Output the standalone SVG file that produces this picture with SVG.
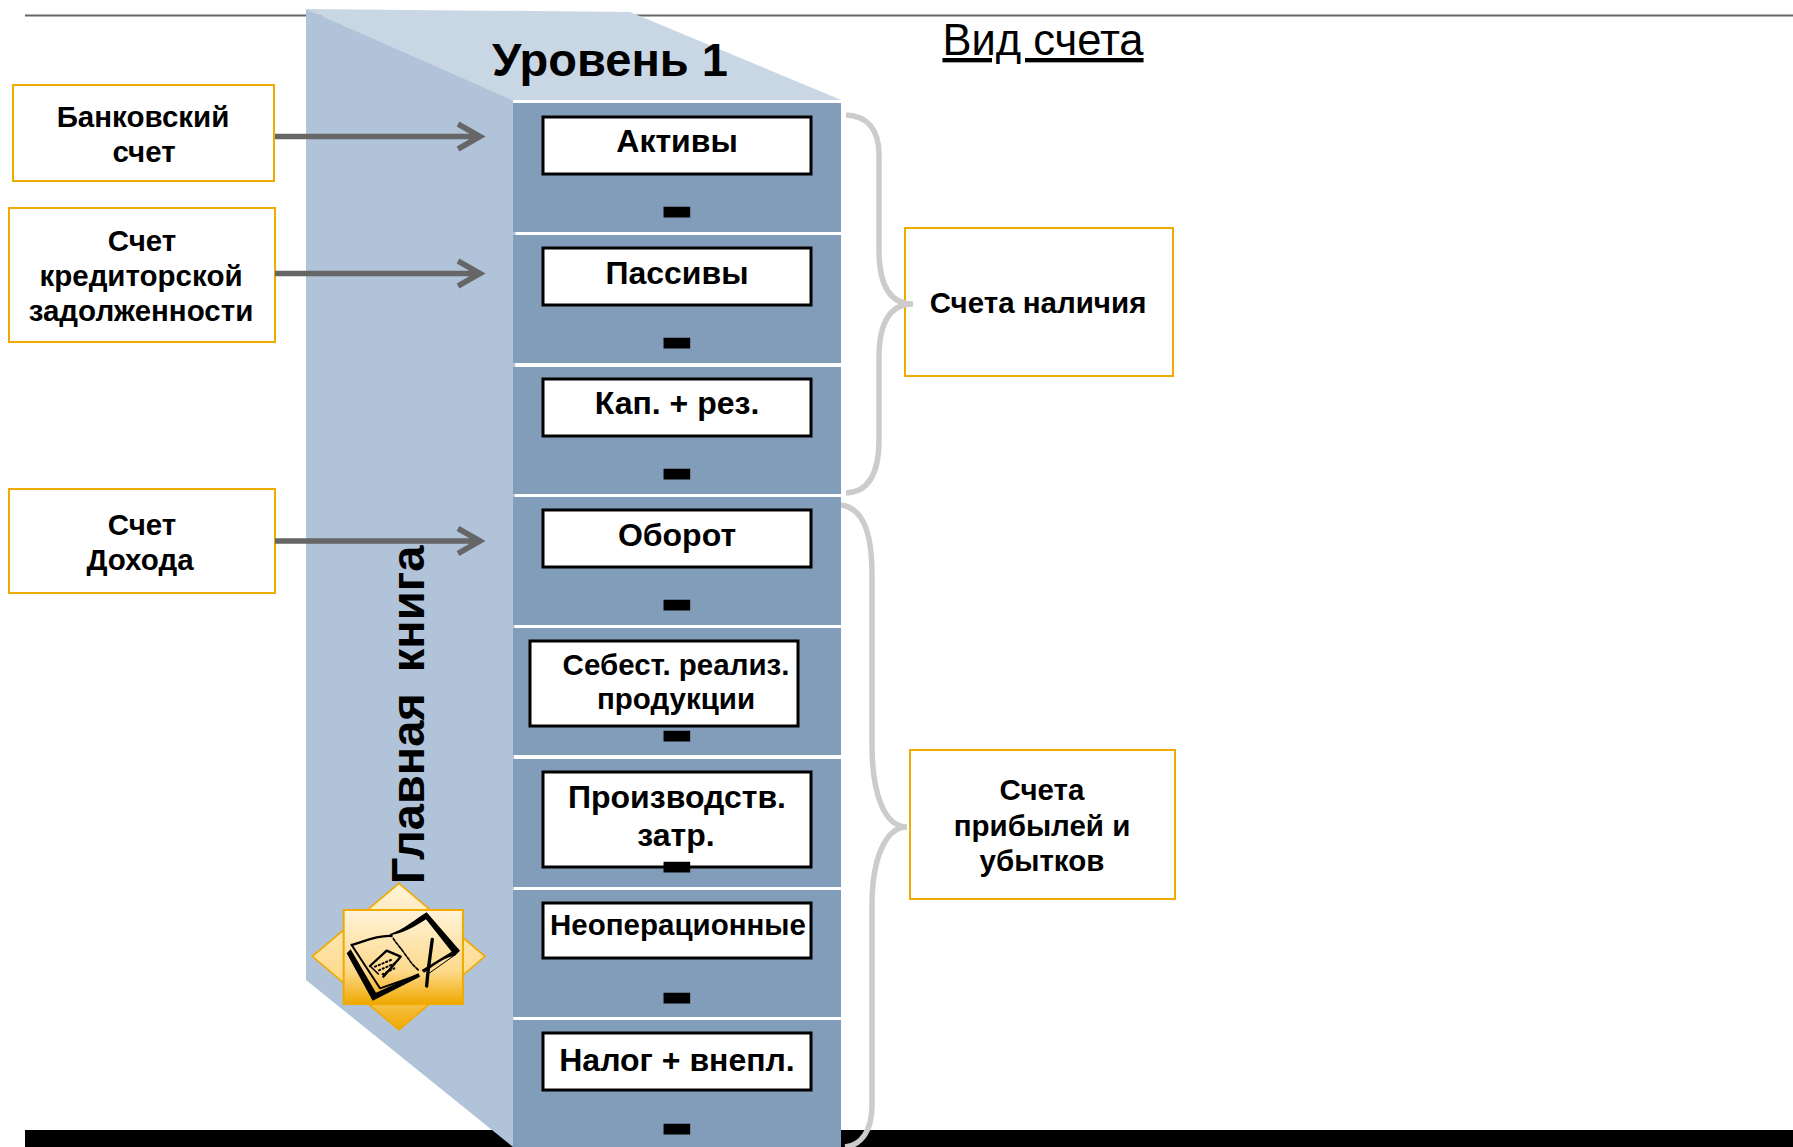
<svg xmlns="http://www.w3.org/2000/svg" width="1793" height="1147" viewBox="0 0 1793 1147">
<style>
text{font-family:"Liberation Sans",Arial,sans-serif;font-weight:700;fill:#000;text-anchor:middle}
.lbl{font-size:32px}
.side{font-size:29.500px}
.dash{font-size:48px;stroke:#000;stroke-width:5}
.panel{fill:#819db9}
.box{fill:#fff;stroke:#000;stroke-width:3}
.org{fill:#fff;stroke:#f0ab00;stroke-width:2}
.arrow{fill:none;stroke:#666;stroke-width:5.500}
.brace{fill:none;stroke:#ccc;stroke-width:5.500}
</style>
<defs>
<linearGradient id="g1" x1="0" y1="0" x2="0" y2="1"><stop offset="0" stop-color="#fff3d9"/><stop offset=".65" stop-color="#fdd98a"/><stop offset="1" stop-color="#f0a800"/></linearGradient>
</defs>
<rect x="25" y="14.500" width="1768" height="2" fill="#666"/>
<rect x="25" y="1130" width="1768" height="17" fill="#000"/>
<polygon points="306,9 630,12 846,102 513,102" fill="#c9d6e4"/>
<polygon points="306,9 516,102 513,1147 306,980" fill="#b0c3d9"/>
<rect x="513" y="100" width="333" height="3" fill="#fff"/>
<g id="cabinet">
<rect class="panel" x="513" y="103" width="328" height="129"/>
<rect class="panel" x="513" y="235" width="328" height="128"/>
<rect class="panel" x="513" y="367" width="328" height="127"/>
<rect class="panel" x="513" y="497" width="328" height="128"/>
<rect class="panel" x="513" y="628" width="328" height="127"/>
<rect class="panel" x="513" y="759" width="328" height="128"/>
<rect class="panel" x="513" y="890" width="328" height="127"/>
<rect class="panel" x="513" y="1020" width="328" height="127"/>
</g>
<text x="610" y="76" style="font-size:47px">Уровень 1</text>
<text x="1043" y="55" style="font-size:43.500px;font-weight:400;text-decoration:underline">Вид счета</text>
<text transform="translate(424 715) rotate(-90)" style="font-size:47px;word-spacing:8px">Главная книга</text>
<g id="n-aktivy"><rect class="box" x="543" y="117" width="268" height="57"/><text class="lbl" x="677" y="152">Активы</text><text class="dash" transform="translate(677 225) scale(1.55 1)">-</text></g>
<g id="n-passivy"><rect class="box" x="543" y="248" width="268" height="57"/><text class="lbl" x="677" y="284">Пассивы</text><text class="dash" transform="translate(677 356) scale(1.55 1)">-</text></g>
<g id="n-kap"><rect class="box" x="543" y="379" width="268" height="57"/><text class="lbl" x="677" y="414">Кап. + рез.</text><text class="dash" transform="translate(677 487) scale(1.55 1)">-</text></g>
<g id="n-oborot"><rect class="box" x="543" y="510" width="268" height="57"/><text class="lbl" x="677" y="546">Оборот</text><text class="dash" transform="translate(677 618) scale(1.55 1)">-</text></g>
<g id="n-sebest"><rect class="box" x="530" y="641" width="268" height="85"/><text class="side" x="676" y="675">Себест. реализ.</text><text class="side" x="676" y="709">продукции</text><text class="dash" transform="translate(677 749) scale(1.55 1)">-</text></g>
<g id="n-proizv"><rect class="box" x="543" y="772" width="268" height="95"/><text class="lbl" x="677" y="808">Производств.</text><text class="lbl" x="676" y="846">затр.</text><text class="dash" transform="translate(677 880) scale(1.55 1)">-</text></g>
<g id="n-neoper"><rect class="box" x="543" y="903" width="268" height="55"/><text class="side" x="678" y="935">Неоперационные</text><text class="dash" transform="translate(677 1011) scale(1.55 1)">-</text></g>
<g id="n-nalog"><rect class="box" x="543" y="1033" width="268" height="57"/><text class="lbl" x="677" y="1071">Налог + внепл.</text><text class="dash" transform="translate(677 1142) scale(1.55 1)">-</text></g>
<g id="n-bank"><rect class="org" x="13" y="85" width="261" height="96"/><text class="side" x="143" y="127">Банковский</text><text class="side" x="144" y="162">счет</text></g>
<g id="n-kred"><rect class="org" x="9" y="208" width="266" height="134"/><text class="side" x="142" y="251">Счет</text><text class="side" x="141" y="286">кредиторской</text><text class="side" x="141" y="321">задолженности</text></g>
<g id="n-dohod"><rect class="org" x="9" y="489" width="266" height="104"/><text class="side" x="142" y="535">Счет</text><text class="side" x="140" y="570">Дохода</text></g>
<g id="n-nal"><rect class="org" x="905" y="228" width="268" height="148"/><text class="side" x="1038" y="313">Счета наличия</text></g>
<g id="n-prib"><rect class="org" x="910" y="750" width="265" height="149"/><text class="side" x="1042" y="800">Счета</text><text class="side" x="1042" y="836">прибылей и</text><text class="side" x="1042" y="871">убытков</text></g>
<g id="connectors">
<path class="arrow" d="M275 136.500H478M458 124L480 136.500L458 149"/>
<path class="arrow" d="M275 273.500H478M458 261L480 273.500L458 286"/>
<path class="arrow" d="M275 541H478M458 528.500L480 541L458 553.500"/>
<path class="brace" d="M846 115C868 116 879 130 879 155V250C879 285 890 304 913 304C890 304 879 323 879 358V440C879 475 868 492 846 493"/>
<path class="brace" d="M841 505C862 508 872 530 872 575V745C872 795 885 827 907 827C885 827 872 860 872 905V1105C872 1130 862 1145 845 1147"/>
</g>
<g id="icon" transform="translate(280 860) scale(.3333)">
<polygon points="357,70 615,289 357,510 97,289" fill="url(#g1)" stroke="#f0ab00" stroke-width="5"/>
<rect x="191" y="150" width="358" height="282" fill="url(#g1)" stroke="#f0ab00" stroke-width="6"/>
<path d="M330 222C370 210 410 175 440 157L540 272L525 287C500 290 470 310 432 338L425 330L515 275L438 178C405 200 370 220 330 226Z" fill="#000"/>
<path d="M200 280L212 268L288 398L415 340L420 350L278 422Z" fill="#000"/>
<g fill="none" stroke="#000" stroke-linejoin="round" stroke-linecap="round">
<path d="M215 255C250 245 290 225 335 228" stroke-width="7"/>
<path d="M215 255L300 385L415 345" stroke-width="6"/>
<path d="M340 235C345 245 355 255 362 265C370 275 380 290 388 300C395 312 405 320 415 330" stroke-width="5" stroke-dasharray="9 5"/>
<path d="M270 318L320 272L362 290L310 350" stroke-width="7"/>
<path d="M270 318L295 342" stroke-width="5"/>
<path d="M285 320L340 297M297 331L345 310M308 343L343 325" stroke-width="6" stroke-dasharray="4 8"/>
<path d="M440 345L525 285" stroke-width="3"/>
<path d="M457 238L444 335L440 378" stroke-width="10"/>
</g>
</g>
</svg>
